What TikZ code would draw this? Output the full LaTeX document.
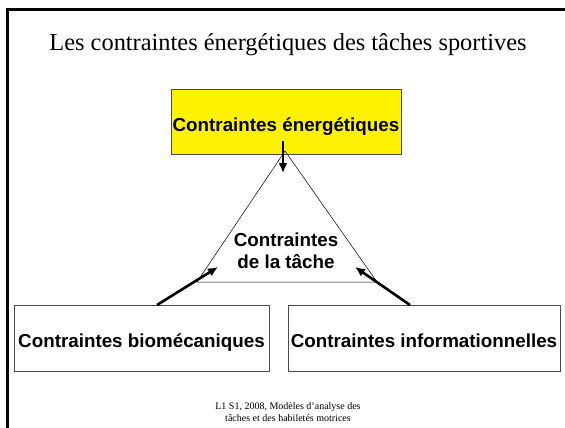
\documentclass[tikz,border=0pt]{standalone}
\usepackage{fontspec}
\setmainfont{Liberation Serif}
\setsansfont{Liberation Sans}
\usetikzlibrary{arrows.meta}
\begin{document}
\begin{tikzpicture}[x=1pt,y=-1pt,
  box/.style={draw=black!70,line width=0.8pt,inner sep=0pt,text height=19pt,text depth=0pt,font=\sffamily\bfseries\fontsize{18.8}{22}\selectfont},
  thinline/.style={line width=0.5pt},
  bigarrow/.style={line width=2.6pt,-{Latex[length=10pt,width=9pt]}},
  frameline/.style={line width=3pt}]
\useasboundingbox (0,0) rectangle (565,428);
\coordinate (ftl) at (7,10);
\coordinate (ftr) at (566,10);
\coordinate (fbl) at (7,429);
\draw[frameline] (fbl) -- (ftl) -- (ftr);
\node[font=\fontsize{24.4}{28}\selectfont] (title) at (288,45) {Les contraintes énergétiques des tâches sportives};
\node[box,fill=yellow,minimum width=230pt,minimum height=65pt] (ener) at (286,121.5) {Contraintes énergétiques};
\coordinate (apex) at (285,151);
\coordinate (bl) at (197,282);
\coordinate (br) at (377,282);
\draw[thinline] (apex) -- (bl) -- (br) -- cycle;
\node[align=center,font=\sffamily\bfseries\fontsize{18.8}{22}\selectfont] (tache) at (286,251) {Contraintes\\de la tâche};
\node[box,minimum width=255pt,minimum height=66pt] (bio) at (141.5,338) {Contraintes biomécaniques};
\node[box,minimum width=272pt,minimum height=66pt] (info) at (424,338) {Contraintes informationnelles};
\coordinate (d0) at (283,141);
\coordinate (d1) at (283,173);
\draw[bigarrow] (d0) -- (d1);
\coordinate (l0) at (157,305);
\coordinate (l1) at (218,267);
\draw[bigarrow] (l0) -- (l1);
\coordinate (r0) at (410,305);
\coordinate (r1) at (355,267);
\draw[bigarrow] (r0) -- (r1);
\node[align=center,font=\fontsize{10}{12}\selectfont] (foot) at (288,412) {L1 S1, 2008, Modèles d'analyse des\\tâches et des habiletés motrices};
\end{tikzpicture}
\end{document}
